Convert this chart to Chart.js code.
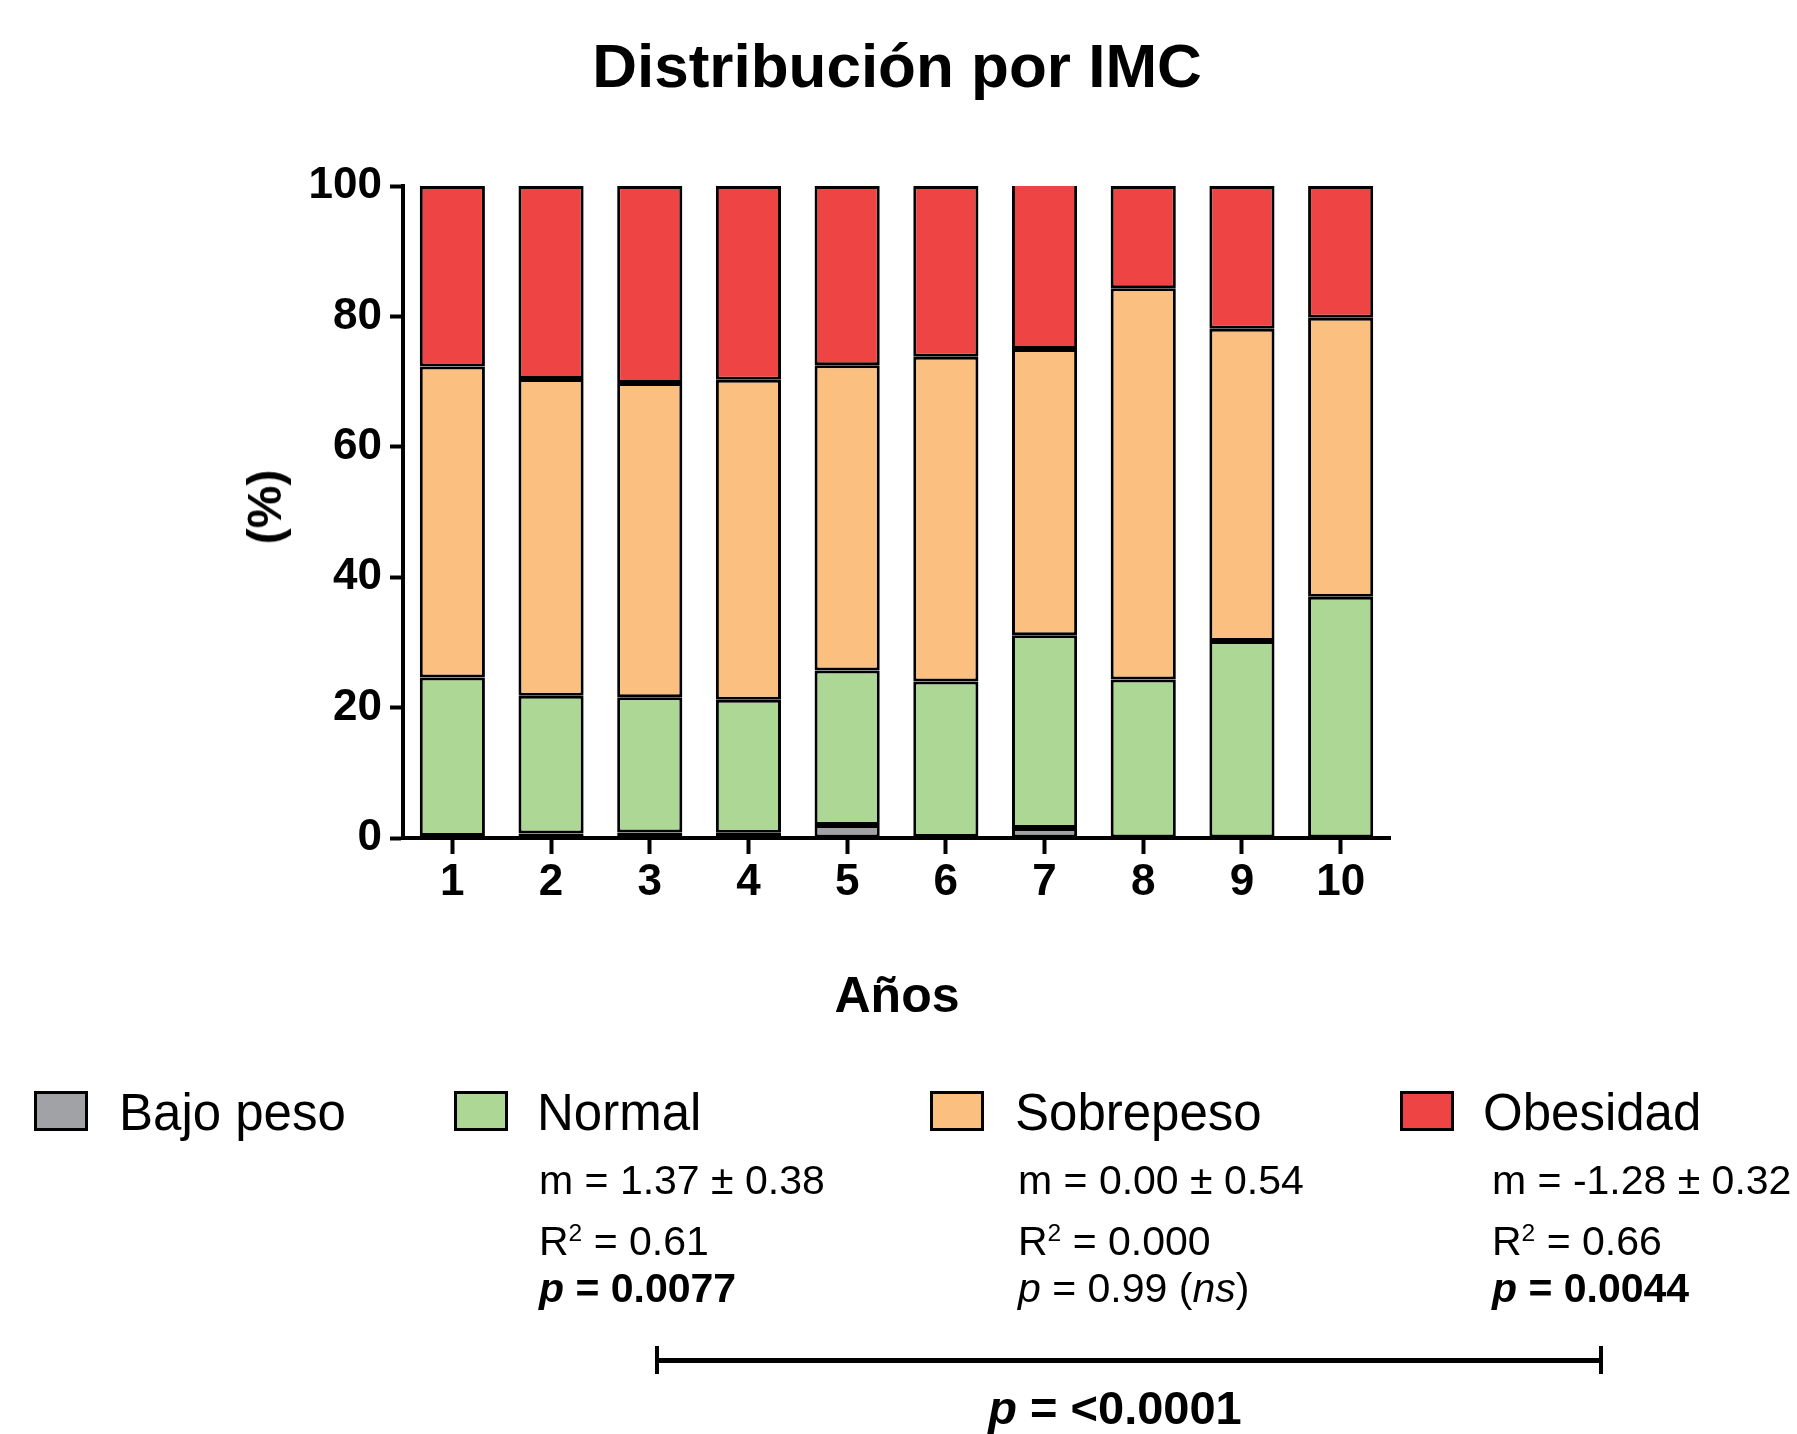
<!DOCTYPE html>
<html>
<head>
<meta charset="utf-8">
<script src="https://cdn.jsdelivr.net/npm/chart.js@4"></script>
<style>
  body { margin: 0; background: #fff; }
  #wrap { position: relative; width: 1797px; height: 1434px; font-family: 'Liberation Sans', Arial, sans-serif; color: #000; overflow: hidden; }
  #chart { position: absolute; left: 0; top: 0; }
  .t { position: absolute; white-space: nowrap; line-height: 1; }
  .box { position: absolute; width: 48px; height: 34px; border: 3px solid #000; }
  .sup { font-size: 0.6em; position: relative; top: -0.55em; }
</style>
</head>
<body>
<div id="wrap">
  <canvas id="chart" width="1797" height="1434"></canvas>
</div>
<script>
// data (percent of each year)
var years = ['1', '2', '3', '4', '5', '6', '7', '8', '9', '10'];
var bajoPeso  = [0.3, 0.7, 0.85, 0.8, 2.0, 0.2, 1.55, 0, 0, 0];
var normal    = [24.3, 21.1, 20.75, 20.4, 23.7, 23.8, 29.55, 24.3, 30.2, 37.0];
var sobrepeso = [47.7, 48.6, 48.2, 49.1, 46.8, 49.8, 43.9, 60.0, 47.9, 42.8];
var obesidad  = [27.7, 29.6, 30.2, 29.7, 27.5, 26.2, 25.0, 15.7, 21.9, 20.2];
var seriesNames = ['Bajo peso', 'Normal', 'Sobrepeso', 'Obesidad'];
var seriesColors = ['#a1a2a6', '#add794', '#fbc080', '#ee4444'];
var yTicks = [0, 20, 40, 60, 80, 100];

// regression stats under the legend (Normal, Sobrepeso, Obesidad)
var slopes = ['1.37 ± 0.38', '0.00 ± 0.54', '-1.28 ± 0.32'];
var r2 = ['0.61', '0.000', '0.66'];
var pValues = ['0.0077', '0.99', '0.0044'];
var pSignif = [true, false, true];
var pOverall = '<0.0001';

var font = "'Liberation Sans', Arial, sans-serif";
var values = [bajoPeso, normal, sobrepeso, obesidad];

var datasets = seriesNames.map(function (name, i) {
  return {
    label: name,
    data: values[i],
    backgroundColor: seriesColors[i],
    borderColor: '#000',
    borderWidth: i == 3 ? function (ctx) {
      // year 7 has no outline on top in the original
      return ctx.dataIndex == 6 ? {top: 0, left: 3, right: 3, bottom: 3} : 3;
    } : 3,
    borderSkipped: false,
    barPercentage: 0.66,
    categoryPercentage: 1
  };
});

var ctx = document.getElementById('chart').getContext('2d');
var myChart = new Chart(ctx, {
  type: 'bar',
  data: { labels: years, datasets: datasets },
  options: {
    responsive: false,
    animation: false,
    layout: { padding: { left: 0, right: 407, top: 186, bottom: 516 } },
    plugins: {
      legend: { display: false },
      tooltip: { enabled: false }
    },
    scales: {
      x: {
        stacked: true,
        afterFit: function (s) { s.height = 80; },
        border: { display: true, color: '#000', width: 4 },
        grid: { display: true, offset: false, drawOnChartArea: false, drawTicks: true, tickLength: 16, tickWidth: 4, tickColor: '#000' },
        ticks: { color: '#000', padding: 2, font: { family: font, size: 44, weight: 'bold' } }
      },
      y: {
        stacked: true,
        min: 0,
        max: 100,
        afterFit: function (s) { s.width = 403; },
        afterBuildTicks: function (s) { s.ticks = yTicks.map(function (v) { return {value: v}; }); },
        border: { display: true, color: '#000', width: 4 },
        grid: { display: true, drawOnChartArea: false, drawTicks: true, tickLength: 13, tickWidth: 4, tickColor: '#000' },
        ticks: { color: '#000', padding: 8, font: { family: font, size: 44, weight: 'bold' } }
      }
    }
  }
});

// text around the chart
var wrap = document.getElementById('wrap');
function addText(html, css) {
  var d = document.createElement('div');
  d.className = 't';
  d.innerHTML = html;
  for (var k in css) d.style[k] = css[k];
  wrap.appendChild(d);
  return d;
}

addText('Distribución por IMC', { left: '897px', top: '35px', fontSize: '62px', fontWeight: 'bold', transform: 'translateX(-50%)' });
addText('(%)', { left: '265px', top: '507px', fontSize: '48px', fontWeight: 'bold', transform: 'translate(-50%,-50%) rotate(-90deg)' });
addText('Años', { left: '897px', top: '970px', fontSize: '50px', fontWeight: 'bold', transform: 'translateX(-50%)' });

// legend
var boxLeft = [34, 454, 930, 1400];
var textLeft = [119, 537, 1015, 1483];
seriesNames.forEach(function (name, i) {
  var b = document.createElement('div');
  b.className = 'box';
  b.style.left = boxLeft[i] + 'px';
  b.style.top = '1091px';
  b.style.background = seriesColors[i];
  wrap.appendChild(b);
  addText(name, { left: textLeft[i] + 'px', top: '1087px', fontSize: '51px' });
});

// stats
var statLeft = [539, 1018, 1492];
slopes.forEach(function (m, i) {
  addText('m = ' + m, { left: statLeft[i] + 'px', top: '1160px', fontSize: '41px' });
  addText('R<span class="sup">2</span> = ' + r2[i], { left: statLeft[i] + 'px', top: '1221px', fontSize: '41px' });
  if (pSignif[i]) {
    addText('<i>p</i> = ' + pValues[i], { left: statLeft[i] + 'px', top: '1268px', fontSize: '41px', fontWeight: 'bold' });
  } else {
    addText('<i>p</i> = ' + pValues[i] + ' (<i>ns</i>)', { left: statLeft[i] + 'px', top: '1268px', fontSize: '41px' });
  }
});

// bracket + overall p
var br = document.createElement('div');
br.style.cssText = 'position:absolute;left:655px;top:1346px;width:940px;height:28px;border-left:4px solid #000;border-right:4px solid #000;';
var ln = document.createElement('div');
ln.style.cssText = 'position:absolute;left:0;right:0;top:12px;height:5px;background:#000;';
br.appendChild(ln);
wrap.appendChild(br);
addText('<i>p</i> = ' + pOverall.replace('<', '&lt;'), { left: '1115px', top: '1384px', fontSize: '47px', fontWeight: 'bold', transform: 'translateX(-50%)' });
</script>
</body>
</html>
